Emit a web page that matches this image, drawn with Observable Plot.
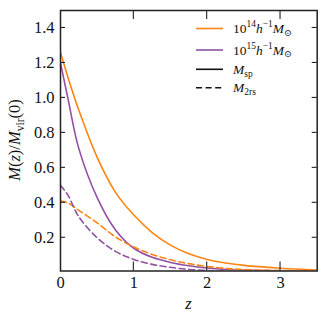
<!DOCTYPE html>
<html>
<head>
<meta charset="utf-8">
<script src="https://cdn.jsdelivr.net/npm/d3@7"></script>
<script src="https://cdn.jsdelivr.net/npm/@observablehq/plot@0.6"></script>
<style>
  html, body { margin: 0; padding: 0; background: #fff; }
  #chart { width: 327px; height: 323px; }
</style>
</head>
<body>
<div id="chart"></div>
<script>
// Redshift grid shared by all series
const zGrid = [0, 0.1, 0.25, 0.5, 0.75, 1.0, 1.25, 1.5, 1.75, 2.0, 2.25, 2.5, 3.0, 3.5];

// M_sp, 1e14 h^-1 Msun (orange solid)
const msp14 = [1.26, 1.12, 0.93, 0.66, 0.46, 0.33, 0.23, 0.158, 0.108, 0.076, 0.056, 0.042, 0.026, 0.016];
// M_sp, 1e15 h^-1 Msun (purple solid)
const msp15 = [1.20, 1.00, 0.71, 0.43, 0.245, 0.14, 0.088, 0.059, 0.040, 0.027, 0.019, 0.015, 0.011, 0.010];
// M_2rs, 1e14 (orange dashed)
const m2rs14 = [0.41, 0.40, 0.357, 0.285, 0.205, 0.147, 0.105, 0.074, 0.052, 0.036, 0.025, 0.018, 0.012, 0.010];
// M_2rs, 1e15 (purple dashed)
const m2rs15 = [0.50, 0.445, 0.32, 0.20, 0.122, 0.076, 0.048, 0.031, 0.019, 0.013, 0.009, 0.006, 0.003, 0.001];

const xTicks = [0, 1, 2, 3];
const yTicks = [0.2, 0.4, 0.6, 0.8, 1.0, 1.2, 1.4];

const massColors = {"1e14": "#ff8412", "1e15": "#9150a2"};

const series = [
  {mass: "1e14", kind: "sp", values: msp14},
  {mass: "1e15", kind: "sp", values: msp15},
  {mass: "1e14", kind: "2rs", values: m2rs14},
  {mass: "1e15", kind: "2rs", values: m2rs15}
];

const rows = series.flatMap(s => zGrid.map((z, i) => ({z, m: s.values[i], mass: s.mass, kind: s.kind})));

const FONT = "'Liberation Serif', 'DejaVu Serif', serif";

const lineMarks = series.map(s => Plot.line(rows.filter(r => r.mass === s.mass && r.kind === s.kind), {
  x: "z", y: "m",
  stroke: massColors[s.mass],
  strokeWidth: 1.6,
  strokeDasharray: s.kind === "2rs" ? "6,3.6" : null,
  curve: "catmull-rom",
  clip: true
}));

const plot = Plot.plot({
  width: 327,
  height: 323,
  marginLeft: 60,
  marginRight: 10.3,
  marginTop: 10,
  marginBottom: 52.5,
  style: {fontFamily: FONT, fontSize: "16.5px", color: "#111", background: "#fff"},
  x: {domain: [0, 3.5]},
  y: {domain: [0.01, 1.5]},
  marks: [
    ...lineMarks,
    Plot.axisX({ticks: xTicks, tickSize: 0, tickPadding: 5, tickFormat: d3.format("d"), label: null}),
    Plot.axisY({ticks: yTicks, tickSize: 0, tickPadding: 6, tickFormat: d3.format(".1f"), label: null}),
    Plot.frame({stroke: "#222", strokeWidth: 1.5})
  ]
});

document.getElementById("chart").appendChild(plot);

const svg = d3.select(plot);
const xs = plot.scale("x"), ys = plot.scale("y");
const [X0, X1] = xs.range, [Y0, Y1] = ys.range; // Y0 bottom, Y1 top

// inward ticks on all four sides, positioned by Plot's scales
const tg = svg.append("g").attr("stroke", "#222").attr("stroke-width", 1.1);
xTicks.forEach(v => {
  const px = xs.apply(v);
  if (px <= X0 + 1) return;
  tg.append("line").attr("x1", px).attr("x2", px).attr("y1", Y0).attr("y2", Y0 - 9);
  tg.append("line").attr("x1", px).attr("x2", px).attr("y1", Y1).attr("y2", Y1 + 9);
});
yTicks.forEach(v => {
  const py = ys.apply(v);
  tg.append("line").attr("x1", X0).attr("x2", X0 + 5).attr("y1", py).attr("y2", py);
  tg.append("line").attr("x1", X1).attr("x2", X1 - 5).attr("y1", py).attr("y2", py);
});

function richText(t, parts, size) {
  let shift = 0;
  parts.forEach(([txt, st]) => {
    const span = t.append("tspan").text(txt);
    let target = 0;
    if (st.includes("sup")) { span.attr("font-size", size * 0.7); target = -0.42 * size; }
    else if (st.includes("sub")) { span.attr("font-size", size * 0.7); target = 0.22 * size; }
    if (st.startsWith("i")) span.attr("font-style", "italic");
    const dy = target - shift;
    if (dy !== 0) span.attr("dy", dy);
    shift = target;
  });
}

// y-axis title
const yl = svg.append("text")
  .attr("transform", "translate(20,140) rotate(-90)")
  .attr("text-anchor", "middle")
  .attr("font-family", FONT).attr("font-size", 16.5).attr("fill", "#111");
richText(yl, [["M", "i"], ["(", ""], ["z", "i"], [")/", ""], ["M", "i"], ["vir", "sub"], ["(0)", ""]], 16.5);

// x-axis title
svg.append("text")
  .attr("x", (X0 + X1) / 2).attr("y", 309)
  .attr("text-anchor", "middle")
  .attr("font-family", FONT).attr("font-size", 16.5).attr("font-style", "italic").attr("fill", "#111")
  .text("z");

// legend
const legendItems = [
  {stroke: massColors["1e14"], dash: null, parts: [["10", ""], ["14", "sup"], ["h", "i"], ["−1", "sup"], ["M", "i"], ["⊙", "sub"]]},
  {stroke: massColors["1e15"], dash: null, parts: [["10", ""], ["15", "sup"], ["h", "i"], ["−1", "sup"], ["M", "i"], ["⊙", "sub"]]},
  {stroke: "#111", dash: null, parts: [["M", "i"], ["sp", "sub"]]},
  {stroke: "#111", dash: "6,3.6", parts: [["M", "i"], ["2r", "sub"], ["s", "sub"]]}
];
const legendY = [28.5, 50, 69.3, 87.7];
const lg = svg.append("g").attr("text-anchor", "start");
legendItems.forEach((it, i) => {
  const y = legendY[i];
  lg.append("line")
    .attr("x1", 196).attr("x2", 223).attr("y1", y).attr("y2", y)
    .attr("stroke", it.stroke).attr("stroke-width", 1.6)
    .attr("stroke-dasharray", it.dash);
  const tx = lg.append("text")
    .attr("x", 233).attr("y", y + 4.5)
    .attr("text-anchor", "start")
    .attr("font-family", FONT).attr("font-size", 13.5).attr("fill", "#111");
  richText(tx, it.parts, 13.5);
});
</script>
</body>
</html>
